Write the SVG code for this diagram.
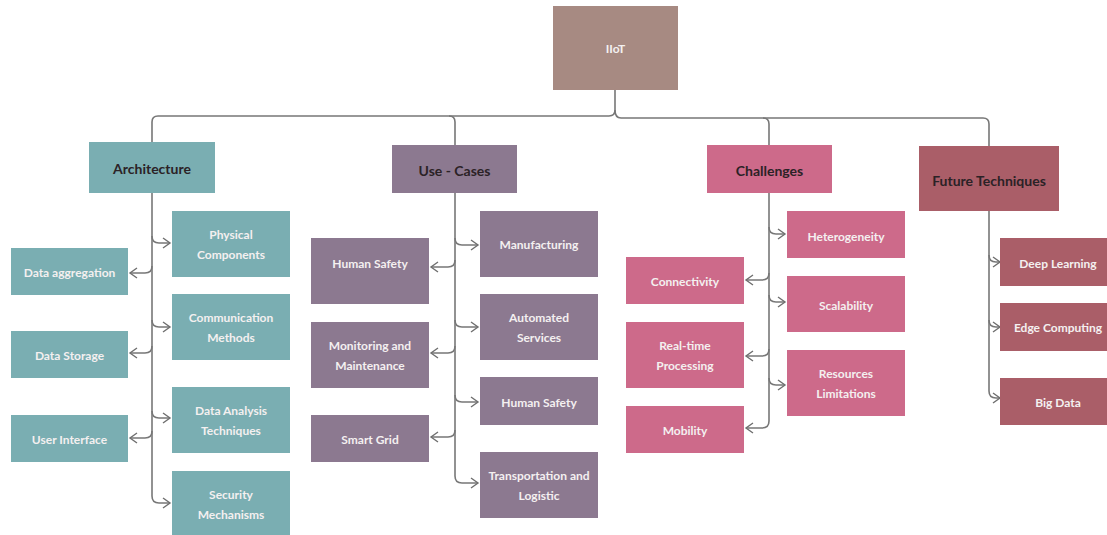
<svg xmlns="http://www.w3.org/2000/svg" width="1107" height="535" viewBox="0 0 1107 535">
<defs>
<marker id="arr" markerWidth="10" markerHeight="12" refX="8" refY="6" orient="auto" markerUnits="userSpaceOnUse">
<path d="M1,1 L8,6 L1,11" fill="none" stroke="#6f6f6f" stroke-width="1.4"/>
</marker>
<style>
.c{fill:none;stroke:#777;stroke-width:1.6}
.a{fill:none;stroke:#777;stroke-width:1.6;marker-end:url(#arr)}
.t{font-family:Lato,"Open Sans",sans-serif;font-weight:bold;font-size:12px;fill:#f4f0f0;text-anchor:middle;dominant-baseline:central}
.h{font-family:Lato,"Open Sans",sans-serif;font-weight:bold;font-size:14px;fill:#2b2226;text-anchor:middle;dominant-baseline:central}
.ar{fill:#7aaeb2}
.uc{fill:#8c7990}
.ch{fill:#cd6a8a}
.ft{fill:#aa5e68}
</style>
</defs>
<rect width="1107" height="535" fill="#ffffff"/>
<g id="connectors">
<path class="c" d="M615,90 V110 Q615,116 609,116 H158 Q152,116 152,122 V142"/>
<path class="c" d="M615,110 Q615,118 621,118 H983 Q989,118 989,124 V146"/>
<path class="c" d="M449,116 Q455,116 455,122 V145"/>
<path class="c" d="M763,118 Q769,118 769,124 V145"/>
<!-- Architecture -->
<path class="c" d="M152,192 V496"/>
<path class="a" d="M152,236 Q152,243 159,243 H170"/>
<path class="a" d="M152,266 Q152,273 145,273 H130"/>
<path class="a" d="M152,320 Q152,327 159,327 H170"/>
<path class="a" d="M152,346 Q152,353 145,353 H130"/>
<path class="a" d="M152,411 Q152,418 159,418 H170"/>
<path class="a" d="M152,431 Q152,438 145,438 H130"/>
<path class="a" d="M152,496 Q152,503 159,503 H170"/>
<!-- Use cases -->
<path class="c" d="M455,193 V476"/>
<path class="a" d="M455,238 Q455,245 462,245 H478"/>
<path class="a" d="M455,260 Q455,267 448,267 H431"/>
<path class="a" d="M455,320 Q455,327 462,327 H478"/>
<path class="a" d="M455,346 Q455,353 448,353 H431"/>
<path class="a" d="M455,395 Q455,402 462,402 H478"/>
<path class="a" d="M455,430 Q455,437 448,437 H431"/>
<path class="a" d="M455,476 Q455,483 462,483 H478"/>
<!-- Challenges -->
<path class="c" d="M769,193 V421"/>
<path class="a" d="M769,227 Q769,234 776,234 H785"/>
<path class="a" d="M769,273 Q769,280 762,280 H746"/>
<path class="a" d="M769,295 Q769,302 776,302 H785"/>
<path class="a" d="M769,349 Q769,356 762,356 H746"/>
<path class="a" d="M769,378 Q769,385 776,385 H785"/>
<path class="a" d="M769,421 Q769,428 762,428 H746"/>
<!-- Future -->
<path class="c" d="M989,211 V391"/>
<path class="a" d="M989,255 Q989,262 996,262 H1000"/>
<path class="a" d="M989,320 Q989,327 996,327 H1000"/>
<path class="a" d="M989,391 Q989,398 996,398 H1000"/>
</g>
<g id="n-iiot"><rect x="553" y="6" width="125" height="84" fill="#a78a82"/><text class="t" x="615.5" y="48">IIoT</text></g>
<g id="n-architecture"><rect class="ar" x="89" y="142" width="126" height="51"/><text class="h" x="152" y="168">Architecture</text></g>
<g id="n-physical"><rect class="ar" x="172" y="211" width="118" height="66"/><text class="t" x="231" y="234">Physical</text><text class="t" x="231" y="254">Components</text></g>
<g id="n-aggregation"><rect class="ar" x="11" y="248" width="117" height="47"/><text class="t" x="69.5" y="272">Data aggregation</text></g>
<g id="n-communication"><rect class="ar" x="172" y="294" width="118" height="66"/><text class="t" x="231" y="317">Communication</text><text class="t" x="231" y="337">Methods</text></g>
<g id="n-storage"><rect class="ar" x="11" y="331" width="117" height="47"/><text class="t" x="69.5" y="355">Data Storage</text></g>
<g id="n-analysis"><rect class="ar" x="172" y="387" width="118" height="66"/><text class="t" x="231" y="410">Data Analysis</text><text class="t" x="231" y="430">Techniques</text></g>
<g id="n-ui"><rect class="ar" x="11" y="415" width="117" height="47"/><text class="t" x="69.5" y="439">User Interface</text></g>
<g id="n-security"><rect class="ar" x="172" y="471" width="118" height="64"/><text class="t" x="231" y="494">Security</text><text class="t" x="231" y="514">Mechanisms</text></g>
<g id="n-usecases"><rect class="uc" x="392" y="145" width="125" height="48"/><text class="h" x="454.5" y="170">Use - Cases</text></g>
<g id="n-manufacturing"><rect class="uc" x="480" y="211" width="118" height="66"/><text class="t" x="539" y="244">Manufacturing</text></g>
<g id="n-humansafety1"><rect class="uc" x="311" y="238" width="118" height="66"/><text class="t" x="370" y="263">Human Safety</text></g>
<g id="n-automated"><rect class="uc" x="480" y="294" width="118" height="66"/><text class="t" x="539" y="317">Automated</text><text class="t" x="539" y="337">Services</text></g>
<g id="n-monitoring"><rect class="uc" x="311" y="322" width="118" height="66"/><text class="t" x="370" y="345">Monitoring and</text><text class="t" x="370" y="365">Maintenance</text></g>
<g id="n-humansafety2"><rect class="uc" x="480" y="377" width="118" height="48"/><text class="t" x="539" y="402">Human Safety</text></g>
<g id="n-smartgrid"><rect class="uc" x="311" y="415" width="118" height="47"/><text class="t" x="370" y="439">Smart Grid</text></g>
<g id="n-transport"><rect class="uc" x="480" y="452" width="118" height="66"/><text class="t" x="539" y="475">Transportation and</text><text class="t" x="539" y="495">Logistic</text></g>
<g id="n-challenges"><rect class="ch" x="707" y="145" width="125" height="48"/><text class="h" x="769.5" y="170">Challenges</text></g>
<g id="n-heterogeneity"><rect class="ch" x="787" y="211" width="118" height="47"/><text class="t" x="846" y="236">Heterogeneity</text></g>
<g id="n-connectivity"><rect class="ch" x="626" y="257" width="118" height="47"/><text class="t" x="685" y="281">Connectivity</text></g>
<g id="n-scalability"><rect class="ch" x="787" y="276" width="118" height="56"/><text class="t" x="846" y="305">Scalability</text></g>
<g id="n-realtime"><rect class="ch" x="626" y="322" width="118" height="66"/><text class="t" x="685" y="345">Real-time</text><text class="t" x="685" y="365">Processing</text></g>
<g id="n-resources"><rect class="ch" x="787" y="350" width="118" height="66"/><text class="t" x="846" y="373">Resources</text><text class="t" x="846" y="393">Limitations</text></g>
<g id="n-mobility"><rect class="ch" x="626" y="406" width="118" height="47"/><text class="t" x="685" y="430">Mobility</text></g>
<g id="n-future"><rect class="ft" x="919" y="146" width="140" height="65"/><text class="h" x="989" y="180">Future Techniques</text></g>
<g id="n-deeplearning"><rect class="ft" x="1000" y="238" width="107" height="48"/><text class="t" x="1058" y="263">Deep Learning</text></g>
<g id="n-edge"><rect class="ft" x="1000" y="303" width="107" height="48"/><text class="t" x="1058" y="327">Edge Computing</text></g>
<g id="n-bigdata"><rect class="ft" x="1000" y="378" width="107" height="47"/><text class="t" x="1058" y="402">Big Data</text></g>
</svg>
